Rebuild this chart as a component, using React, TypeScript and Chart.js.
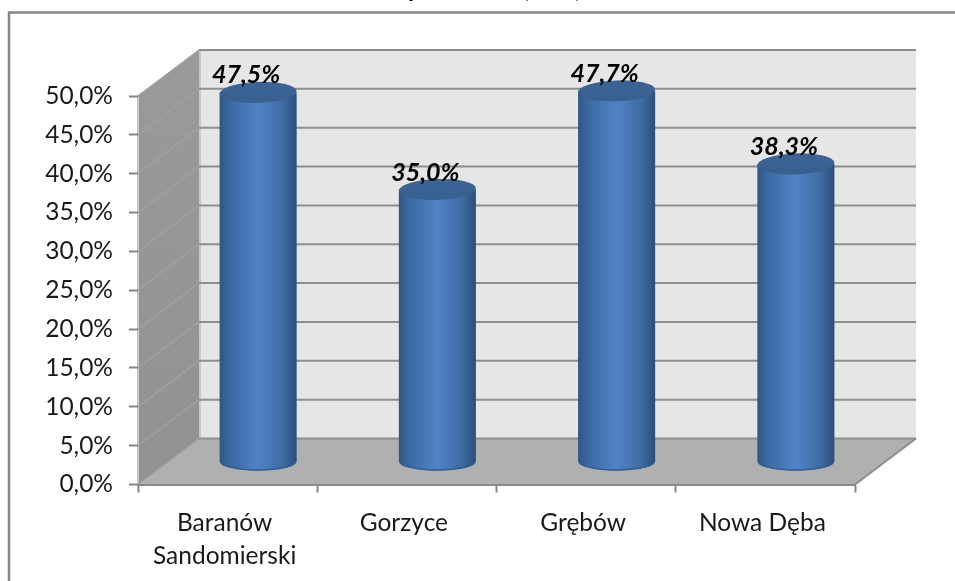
import React, { useEffect, useRef } from "react";
import { Chart, registerables } from "chart.js";

Chart.register(...registerables);

const categories: (string | string[])[] = [["Baranów", "Sandomierski"], "Gorzyce", "Grębów", "Nowa Dęba"];
const values = [47.5, 35.0, 47.7, 38.3];
const axisMax = 50;
const axisStep = 5;
const titleFragments = ["y", "(", ")"];

const FONT = "Lato, 'Open Sans', sans-serif";
const DX = 61;
const DY = -46;
const fmt = (v: number) => v.toFixed(1).replace(".", ",") + "%";

const cylGradient = (ctx: CanvasRenderingContext2D, x: number, w: number) => {
  const g = ctx.createLinearGradient(x - w / 2, 0, x + w / 2, 0);
  g.addColorStop(0, "#2f5684");
  g.addColorStop(0.12, "#3a689f");
  g.addColorStop(0.5, "#5183c6");
  g.addColorStop(0.82, "#3f6ba3");
  g.addColorStop(1, "#2b4e79");
  return g;
};

const stagePlugin = {
  id: "stage",
  beforeDraw(chart: any) {
    const { ctx, chartArea: a, scales } = chart;
    const y = scales.y;
    ctx.save();
    ctx.fillStyle = "#ffffff";
    ctx.fillRect(0, 0, chart.width, chart.height);

    // outer frame
    ctx.strokeStyle = "#868686";
    ctx.lineWidth = 2.5;
    ctx.beginPath();
    ctx.moveTo(9, 581);
    ctx.lineTo(9, 12.5);
    ctx.lineTo(955, 12.5);
    ctx.stroke();

    // clipped title
    ctx.fillStyle = "#000000";
    ctx.font = `bold 24px ${FONT}`;
    ctx.textAlign = "center";
    ctx.textBaseline = "alphabetic";
    [413, 526, 578].forEach((px, i) => ctx.fillText(titleFragments[i], px, -3));

    const L = a.left, R = a.right, T = a.top, B = a.bottom;
    // back wall
    ctx.fillStyle = "#e6e6e6";
    ctx.fillRect(L + DX, T + DY, R - L, B - T);
    // side wall
    const side = ctx.createLinearGradient(0, T + DY, 0, B);
    side.addColorStop(0, "#9a9a9a");
    side.addColorStop(1, "#929292");
    ctx.fillStyle = side;
    ctx.beginPath();
    ctx.moveTo(L, B);
    ctx.lineTo(L + DX, B + DY);
    ctx.lineTo(L + DX, T + DY);
    ctx.lineTo(L, T);
    ctx.closePath();
    ctx.fill();
    // floor
    ctx.fillStyle = "#b0b0b0";
    ctx.beginPath();
    ctx.moveTo(L, B);
    ctx.lineTo(L + DX, B + DY);
    ctx.lineTo(R + DX, B + DY);
    ctx.lineTo(R, B);
    ctx.closePath();
    ctx.fill();

    // light edges
    ctx.strokeStyle = "#c8c8c8";
    ctx.lineWidth = 2;
    ctx.beginPath();
    ctx.moveTo(L, T);
    ctx.lineTo(L, B);
    ctx.moveTo(L + DX + 1, T + DY);
    ctx.lineTo(L + DX + 1, B + DY);
    ctx.stroke();

    // gridlines on side + back wall
    y.ticks.forEach((t: any) => {
      const py = y.getPixelForValue(t.value);
      ctx.strokeStyle = "#a0a0a0";
      ctx.lineWidth = 1.5;
      ctx.beginPath();
      ctx.moveTo(L, py);
      ctx.lineTo(L + DX, py + DY);
      ctx.stroke();
      ctx.strokeStyle = "#8e8e8e";
      ctx.lineWidth = 2;
      ctx.beginPath();
      ctx.moveTo(L + DX, py + DY);
      ctx.lineTo(R + DX, py + DY);
      ctx.stroke();
    });

    // right floor edge
    ctx.strokeStyle = "#8e8e8e";
    ctx.lineWidth = 2;
    ctx.beginPath();
    ctx.moveTo(R, B);
    ctx.lineTo(R + DX, B + DY);
    ctx.stroke();
    ctx.restore();
  },
  beforeDatasetsDraw(chart: any) {
    const { ctx } = chart;
    const meta = chart.getDatasetMeta(0);
    ctx.save();
    ctx.translate(DX / 2, DY / 2);
    // rounded base of every cylinder
    meta.data.forEach((bar: any) => {
      ctx.fillStyle = cylGradient(ctx, bar.x, bar.width);
      ctx.beginPath();
      ctx.ellipse(bar.x, bar.base, bar.width / 2, 9.5, 0, 0, Math.PI * 2);
      ctx.fill();
      ctx.strokeStyle = "#2f5c92";
      ctx.lineWidth = 1.5;
      ctx.beginPath();
      ctx.ellipse(bar.x, bar.base, bar.width / 2 - 0.5, 9, 0, 0.15, Math.PI - 0.15);
      ctx.stroke();
    });
  },
  afterDatasetsDraw(chart: any) {
    const { ctx } = chart;
    const meta = chart.getDatasetMeta(0);
    // top caps
    meta.data.forEach((bar: any) => {
      const g = ctx.createLinearGradient(0, bar.y - 10, 0, bar.y + 10);
      g.addColorStop(0, "#3b6494");
      g.addColorStop(1, "#38608f");
      ctx.fillStyle = g;
      ctx.beginPath();
      ctx.ellipse(bar.x, bar.y, bar.width / 2, 10.5, -0.035, 0, Math.PI * 2);
      ctx.fill();
    });
    // data labels sit over the caps
    ctx.fillStyle = "#000000";
    ctx.font = `italic bold 25px ${FONT}`;
    ctx.textAlign = "center";
    ctx.textBaseline = "middle";
    meta.data.forEach((bar: any, i: number) => {
      ctx.fillText(fmt(values[i]), bar.x - 12, bar.y - 17);
    });
    ctx.restore();
  },
};

export default function App() {
  const ref = useRef<HTMLCanvasElement>(null);
  useEffect(() => {
    const chart = new Chart(ref.current as HTMLCanvasElement, {
      type: "bar",
      data: {
        labels: categories as any,
        datasets: [
          {
            data: values,
            clip: false as any,
            categoryPercentage: 1,
            barPercentage: 0.43,
            borderWidth: 0,
            backgroundColor: (c: any) => {
              const ch = c.chart;
              if (!ch.chartArea || c.dataIndex === undefined) return "#4f81bd";
              const w = ((ch.chartArea.right - ch.chartArea.left) / categories.length) * 0.43;
              return cylGradient(ch.ctx, ch.scales.x.getPixelForValue(c.dataIndex), w);
            },
          },
        ],
      },
      options: {
        responsive: false,
        animation: false,
        devicePixelRatio: 1,
        layout: { padding: { top: 96, right: 100, left: 0, bottom: 0 } },
        plugins: { legend: { display: false }, title: { display: false }, tooltip: { enabled: false } },
        scales: {
          x: {
            afterFit: (s: any) => {
              s.height = 96.5;
            },
            border: { color: "#8a8a8a", width: 2 },
            grid: { drawOnChartArea: false, drawTicks: true, tickLength: 8, tickColor: "#868686", tickWidth: 2, offset: true },
            ticks: {
              color: "#1a1a1a",
              padding: 15,
              labelOffset: -3,
              maxRotation: 0,
              autoSkip: false,
              font: { family: FONT, size: 24.5, lineHeight: 1.31 },
            },
          },
          y: {
            min: 0,
            max: axisMax,
            afterFit: (s: any) => {
              s.width = 138;
            },
            border: { display: false },
            grid: { drawOnChartArea: false, drawTicks: true, tickLength: 9, tickColor: "#868686", tickWidth: 2 },
            ticks: {
              stepSize: axisStep,
              color: "#1a1a1a",
              padding: 16,
              font: { family: FONT, size: 24.5 },
              callback: (v: any) => fmt(Number(v)),
            },
          },
        },
      },
      plugins: [stagePlugin as any],
    });
    return () => chart.destroy();
  }, []);
  return (
    <div style={{ position: "fixed", left: 0, top: 0, width: 955, height: 581, background: "#fff" }}>
      <canvas ref={ref} width={955} height={581} style={{ display: "block" }} />
    </div>
  );
}
